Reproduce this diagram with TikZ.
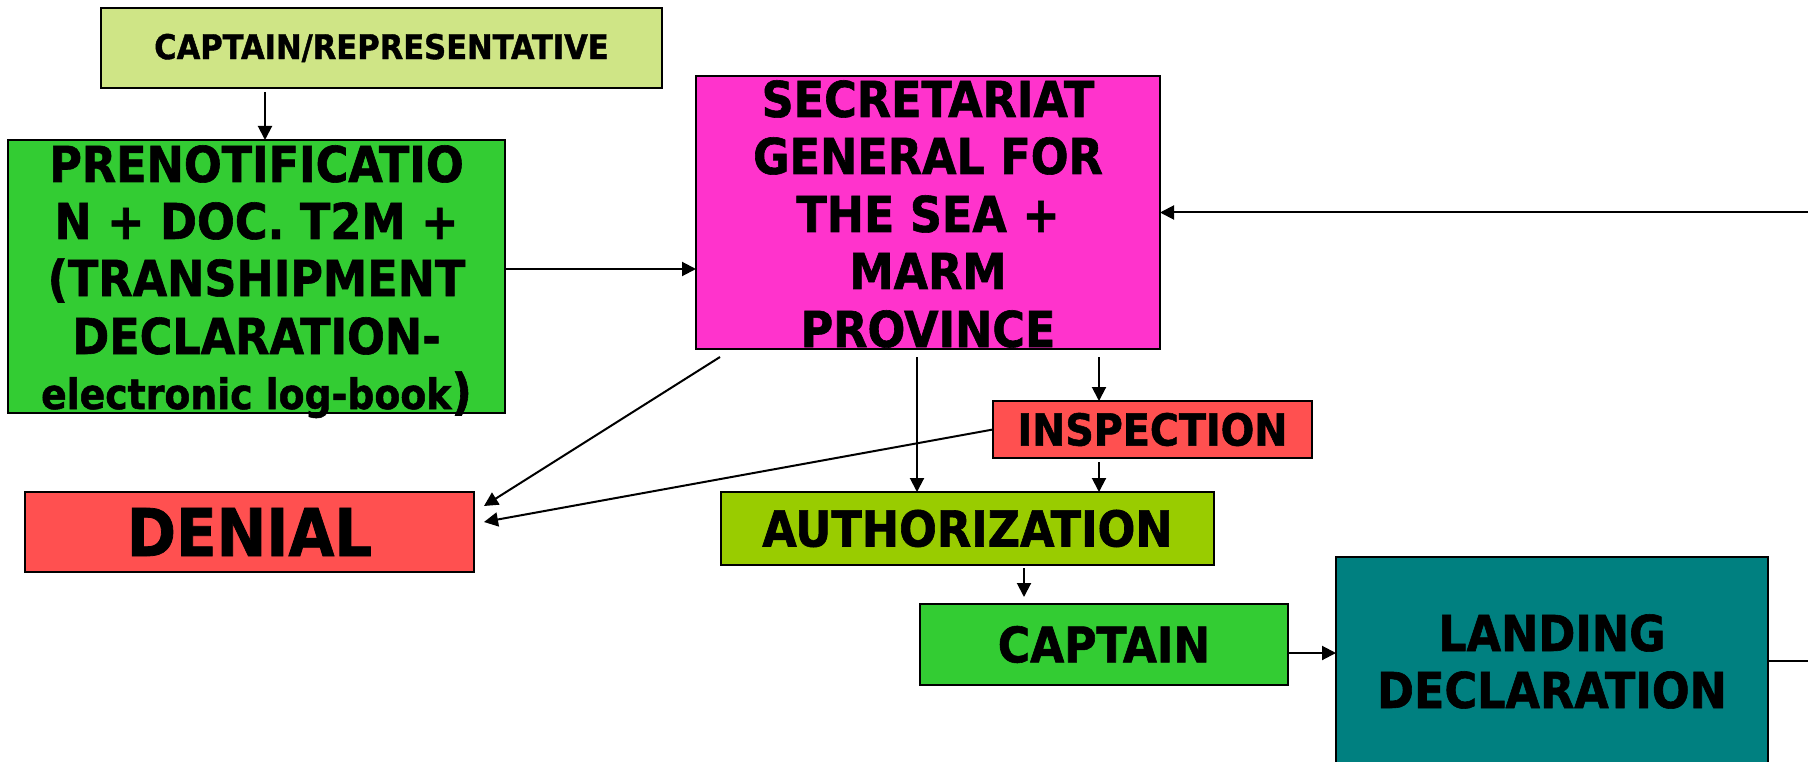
\documentclass[tikz,border=0pt]{standalone}
\usepackage{fontspec}
\setmainfont{DejaVu Sans Condensed}[BoldFont={DejaVu Sans Condensed Bold},BoldFeatures={FakeBold=1.2}]
\usetikzlibrary{arrows.meta,calc}
\definecolor{repcol}{RGB}{207,229,134}
\definecolor{greencol}{RGB}{51,204,51}
\definecolor{magcol}{RGB}{255,51,204}
\definecolor{redcol}{RGB}{255,80,80}
\definecolor{authcol}{RGB}{153,204,0}
\definecolor{tealcol}{RGB}{0,128,128}
\begin{document}
\begin{tikzpicture}[x=1pt,y=-1pt,
  box/.style={draw=black,line width=2pt,inner sep=0pt,outer sep=0pt,anchor=north west},
  arr/.style={line width=2pt,-{Triangle[length=14pt,width=14pt]}},
  ln/.style={line width=2pt},
  txt/.style={anchor=base,inner sep=0pt,font=\bfseries\fontsize{49.5}{54}\selectfont}]
\useasboundingbox (0,0) rectangle (1808,762);
\fill[white] (0,0) rectangle (1808,762);
% boxes
\node[box,fill=repcol,minimum width=561pt,minimum height=80pt,font=\bfseries\fontsize{34}{38}\selectfont] (rep) at (101,8) {CAPTAIN/REPRESENTATIVE};
\node[box,fill=greencol,minimum width=497pt,minimum height=273pt] (prenot) at (8,140) {};
\node[box,fill=magcol,minimum width=464pt,minimum height=273pt] (sec) at (696,76) {};
\node[box,fill=redcol,minimum width=319pt,minimum height=57pt,font=\bfseries\fontsize{44}{50}\selectfont] (insp) at (993,401) {INSPECTION};
\node[box,fill=redcol,minimum width=449pt,minimum height=80pt,font=\bfseries\fontsize{66}{72}\selectfont] (denial) at (25,492) {DENIAL};
\node[box,fill=authcol,minimum width=493pt,minimum height=73pt,font=\bfseries\fontsize{49.5}{54}\selectfont] (auth) at (721,492) {AUTHORIZATION};
\node[box,fill=greencol,minimum width=368pt,minimum height=81pt,font=\bfseries\fontsize{49}{54}\selectfont] (capt) at (920,604) {CAPTAIN};
\node[box,fill=tealcol,minimum width=432pt,minimum height=240pt] (land) at (1336,557) {};
% multi-line texts
\node[txt] (sec1) at (928,117) {SECRETARIAT};
\node[txt] (sec2) at (928,174) {GENERAL FOR};
\node[txt] (sec3) at (928,232) {THE SEA +};
\node[txt] (sec4) at (928,289) {MARM};
\node[txt] (sec5) at (928,347) {PROVINCE};
\node[txt] (pre1) at (256.5,182) {PRENOTIFICATIO};
\node[txt] (pre2) at (256.5,239) {N + DOC. T2M +};
\node[txt] (pre3) at (256.5,296) {(TRANSHIPMENT};
\node[txt] (pre4) at (256.5,354) {DECLARATION-};
\node[txt] (pre5) at (256.5,409) {{\fontsize{42}{46}\selectfont electronic log-book})};
\node[txt] (land1) at (1552,651) {LANDING};
\node[txt] (land2) at (1552,708) {DECLARATION};
% helper coordinates
\coordinate (c265) at (265,0);
\coordinate (c269) at (0,269);
\coordinate (c917) at (917,0);
\coordinate (c1099) at (1099,0);
\coordinate (c1024) at (1024,0);
\coordinate (c653) at (0,653);
\coordinate (c661) at (0,661);
\coordinate (rightin) at (1820,212.5);
\coordinate (rightout) at (1820,661);
% connectors
\draw[arr,shorten <=4pt] (rep.south -| c265) -- (prenot.north -| c265);
\draw[arr] (prenot.east |- c269) -- (sec.west |- c269);
\draw[arr] (rightin) -- (sec.east);
\draw[arr] ([shift={(24,8)}]sec.south west) -- ([shift={(10,14)}]denial.north east);
\draw[arr,shorten <=8pt] (sec.south -| c917) -- (auth.north -| c917);
\draw[arr,shorten <=8pt] (sec.south -| c1099) -- (insp.north -| c1099);
\draw[arr] (insp.west) -- ([shift={(10,-10)}]denial.east);
\draw[arr,shorten <=4pt] (insp.south -| c1099) -- (auth.north -| c1099);
\draw[arr,shorten <=3pt,shorten >=7pt] (auth.south -| c1024) -- (capt.north -| c1024);
\draw[arr] (capt.east |- c653) -- (land.west |- c653);
\draw[ln] (land.east |- c661) -- (rightout);
\end{tikzpicture}
\end{document}
